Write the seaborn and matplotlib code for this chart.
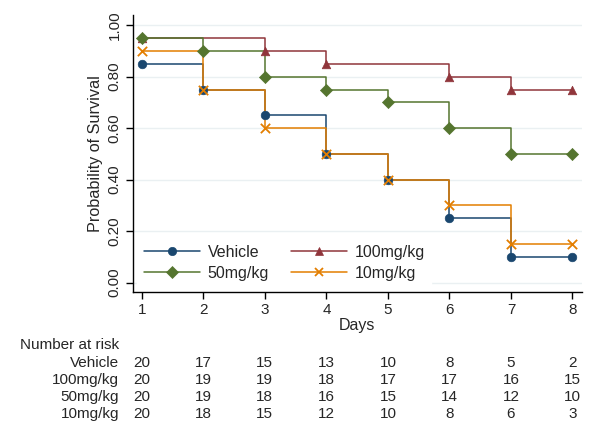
import numpy as np
import pandas as pd
import matplotlib
matplotlib.use("Agg")
import matplotlib.pyplot as plt
from matplotlib.lines import Line2D
import seaborn as sns

# 데이터
days = [1, 2, 3, 4, 5, 6, 7, 8]
groups = ["Vehicle", "100mg/kg", "50mg/kg", "10mg/kg"]
surv_vehicle = [0.85, 0.75, 0.65, 0.50, 0.40, 0.25, 0.10, 0.10]
surv_100 = [0.95, 0.95, 0.90, 0.85, 0.85, 0.80, 0.75, 0.75]
surv_50 = [0.95, 0.90, 0.80, 0.75, 0.70, 0.60, 0.50, 0.50]
surv_10 = [0.90, 0.75, 0.60, 0.50, 0.40, 0.30, 0.15, 0.15]
# 마커가 찍힌 날 (이벤트 발생일 + 마지막 날)
mark_100 = [1, 3, 4, 6, 7, 8]
risk_vehicle = [20, 17, 15, 13, 10, 8, 5, 2]
risk_100 = [20, 19, 19, 18, 17, 17, 16, 15]
risk_50 = [20, 19, 18, 16, 15, 14, 12, 10]
risk_10 = [20, 18, 15, 12, 10, 8, 6, 3]
yticks = [0.0, 0.2, 0.4, 0.6, 0.8, 1.0]

sns.set_style("white")
plt.rcParams["font.family"] = ["Liberation Sans", "DejaVu Sans"]
plt.rcParams["font.size"] = 11

colors = ["#1a476f", "#90353b", "#55752f", "#e37e00"]
markers = ["o", "^", "D", "x"]
survs = [surv_vehicle, surv_100, surv_50, surv_10]
risks = [risk_vehicle, risk_100, risk_50, risk_10]

fig = plt.figure(figsize=(6, 4.37), dpi=100)
ax = fig.add_axes([0.221, 0.3325, 0.7485, 0.6335])

for g, s, c, m in zip(groups, survs, colors, markers):
    df = pd.DataFrame({"day": days, "surv": s})
    sns.lineplot(data=df, x="day", y="surv", drawstyle="steps-post", color=c,
                 lw=1.1, ax=ax, legend=False, zorder=2)
    if g == "100mg/kg":
        df = df[df["day"].isin(mark_100)]
    if m == "x":
        sns.scatterplot(data=df, x="day", y="surv", marker=m, color=c, s=45,
                        linewidth=1.3, ax=ax, legend=False, zorder=3)
    else:
        sns.scatterplot(data=df, x="day", y="surv", marker=m, color=c, s=38,
                        edgecolor=c, linewidth=0.5, ax=ax, legend=False, zorder=3)

ax.set_xlim(0.85, 8.15)
ax.set_ylim(-0.035, 1.04)
ax.set_xticks(days)
ax.set_yticks(yticks)
ax.set_yticklabels(["%.2f" % v for v in yticks], rotation=90, va="center")
ax.yaxis.grid(True, color="#eaf0f2", lw=1)
ax.set_axisbelow(True)
sns.despine(ax=ax)
for sp in ["left", "bottom"]:
    ax.spines[sp].set_color("black")
    ax.spines[sp].set_linewidth(1.0)
ax.tick_params(axis="both", direction="out", length=5, width=1, color="black",
               labelsize=11, pad=3, left=True, bottom=True)
ax.set_xlabel("Days", fontsize=11.5, labelpad=1)
ax.set_ylabel("Probability of Survival", fontsize=11.7, labelpad=3)

# 범례: 행 방향 순서 (Vehicle, 100 / 50, 10)
order = [0, 2, 1, 3]
handles = [Line2D([0], [0], color=colors[i], marker=markers[i], markersize=6,
                  lw=1.1, markeredgewidth=1.3 if markers[i] == "x" else 0.5)
           for i in order]
leg = ax.legend(handles, [groups[i] for i in order], ncol=2, loc="lower left",
                frameon=True, bbox_to_anchor=(0.0, 0.0), handlelength=3.5,
                columnspacing=1.35, handletextpad=0.5, labelspacing=0.35,
                fontsize=11.5, borderaxespad=0.3, fancybox=False)
leg.get_frame().set_edgecolor("white")
leg.get_frame().set_facecolor("white")
leg.get_frame().set_alpha(1)

# Number at risk 표
tab = fig.add_axes([0.221, 1 - 414 / 437, 0.7485, (414 - 362.7) / 437])
tab.set_xlim(ax.get_xlim())
tab.set_ylim(3, 0)
tab.axis("off")
for i, (g, r) in enumerate(zip(groups, risks)):
    tab.text(-0.03, i, g, transform=tab.get_yaxis_transform(), ha="right",
             va="center", fontsize=11)
    for d, n in zip(days, r):
        tab.text(d, i, str(n), ha="center", va="center", fontsize=11)
fig.text(20 / 600, 1 - 345 / 437, "Number at risk", ha="left", va="center",
         fontsize=11)

fig.savefig("out.png", dpi=100)
